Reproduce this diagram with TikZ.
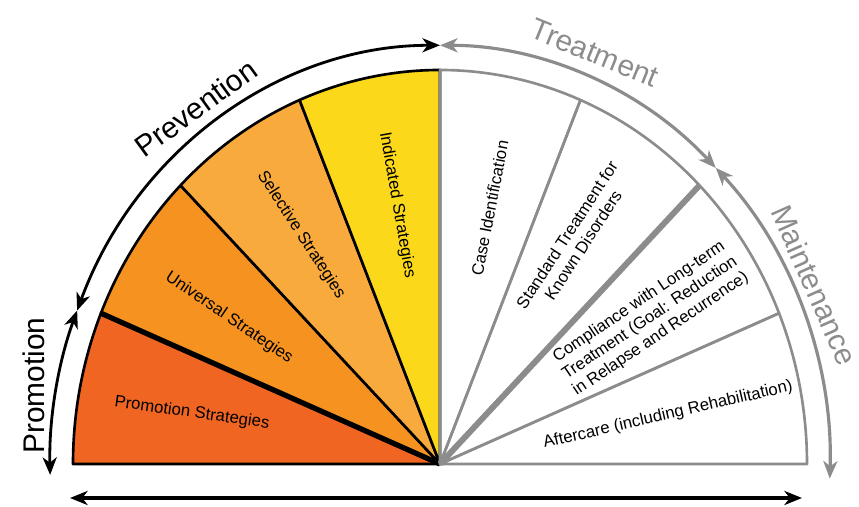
\documentclass[tikz,border=0pt]{standalone}
\usepackage{fontspec}
\setmainfont{Liberation Sans}
\usepackage{tikz}
\usetikzlibrary{arrows.meta}

\definecolor{promo}{RGB}{241,101,34}
\definecolor{univ}{RGB}{245,146,32}
\definecolor{selec}{RGB}{249,170,60}
\definecolor{indic}{RGB}{252,216,27}
\definecolor{treatgray}{RGB}{140,140,140}

\begin{document}
\begin{tikzpicture}
[sectorline/.style={line width=1.5pt,line join=round},
 bothtips/.style={line width=1.6pt,{Stealth[length=10pt,width=8pt,inset=3pt]}-{Stealth[length=10pt,width=8pt,inset=3pt]}},
 lbl/.style={font=\fontsize{9.5}{11}\selectfont,align=center,inner sep=0pt},
 biglbl/.style={font=\fontsize{17}{19}\selectfont,inner sep=0pt}]
\useasboundingbox (0,0) rectangle (17.18,10.14);

\begin{scope}[shift={(8.8,0.86)},yscale=1.0736]
\coordinate (O) at (0,0);

% prevention half
\filldraw[sectorline,fill=promo] (O) -- (180:7.34) arc[start angle=180,end angle=157.5,radius=7.34] -- cycle;
\filldraw[sectorline,fill=univ] (O) -- (157.5:7.34) arc[start angle=157.5,end angle=135,radius=7.34] -- cycle;
\filldraw[sectorline,fill=selec] (O) -- (135:7.34) arc[start angle=135,end angle=112.5,radius=7.34] -- cycle;
\filldraw[sectorline,fill=indic] (O) -- (112.5:7.34) arc[start angle=112.5,end angle=90,radius=7.34] -- cycle;
\draw[line width=3pt] (O) -- (157.5:7.34);

% treatment half
\draw[sectorline,draw=treatgray] (O) -- (90:7.34) arc[start angle=90,end angle=67.5,radius=7.34] -- cycle;
\draw[sectorline,draw=treatgray] (O) -- (67.5:7.34) arc[start angle=67.5,end angle=45,radius=7.34] -- cycle;
\draw[sectorline,draw=treatgray] (O) -- (45:7.34) arc[start angle=45,end angle=22.5,radius=7.34] -- cycle;
\draw[sectorline,draw=treatgray] (O) -- (22.5:7.34) arc[start angle=22.5,end angle=0,radius=7.34] -- cycle;
\draw[line width=3.4pt,draw=treatgray] (O) -- (45:7.34);

\node[lbl,rotate=-8] (promostrat) at (169.2:5.05) {Promotion Strategies};
\node[lbl,rotate=-34] (univstrat) at (147.2:5.02) {Universal Strategies};
\node[lbl,rotate=-57] (selecstrat) at (123.1:5.09) {Selective Strategies};
\node[lbl,rotate=-80] (indicstrat) at (100.1:4.9) {Indicated Strategies};

\node[lbl,rotate=79] (caseid) at (78.2:4.87) {Case Identification};
\node[lbl,rotate=57] (stdtreat) at (57.1:4.97) {Standard Treatment for\\Known Disorders};
\node[lbl,rotate=34] (compliance) at (32.9:5.0) {Compliance with Long-term\\Treatment (Goal: Reduction\\in Relapse and Recurrence)};
\node[lbl,rotate=13] (aftercare) at (11.3:4.65) {Aftercare (including Rehabilitation)};

% outer arrows
\draw[bothtips] (158.5:7.8) arc[start angle=158.5,end angle=90,radius=7.8];
\draw[bothtips] (158.5:7.8) arc[start angle=158.5,end angle=181.5,radius=7.8];
\draw[bothtips,draw=treatgray,line width=1.8pt] (90:7.8) arc[start angle=90,end angle=45,radius=7.8];
\draw[bothtips,draw=treatgray,line width=1.8pt] (45:7.8) arc[start angle=45,end angle=-2,radius=7.8];

\node[biglbl,rotate=36] (prevlbl) at (126.4:8.24) {Prevention};
\node[biglbl,rotate=90] (promolbl) at (169.8:8.25) {Promotion};
\node[biglbl,rotate=-22,text=treatgray] (treatlbl) at (68:8.26) {Treatment};
\node[biglbl,rotate=-66,text=treatgray] (maintlbl) at (24:8.2) {Maintenance};
\end{scope}

\coordinate (bl) at (1.4,0.18);
\coordinate (br) at (16.04,0.18);
\draw[bothtips,line width=1.9pt] (bl) -- (br);

\end{tikzpicture}
\end{document}
